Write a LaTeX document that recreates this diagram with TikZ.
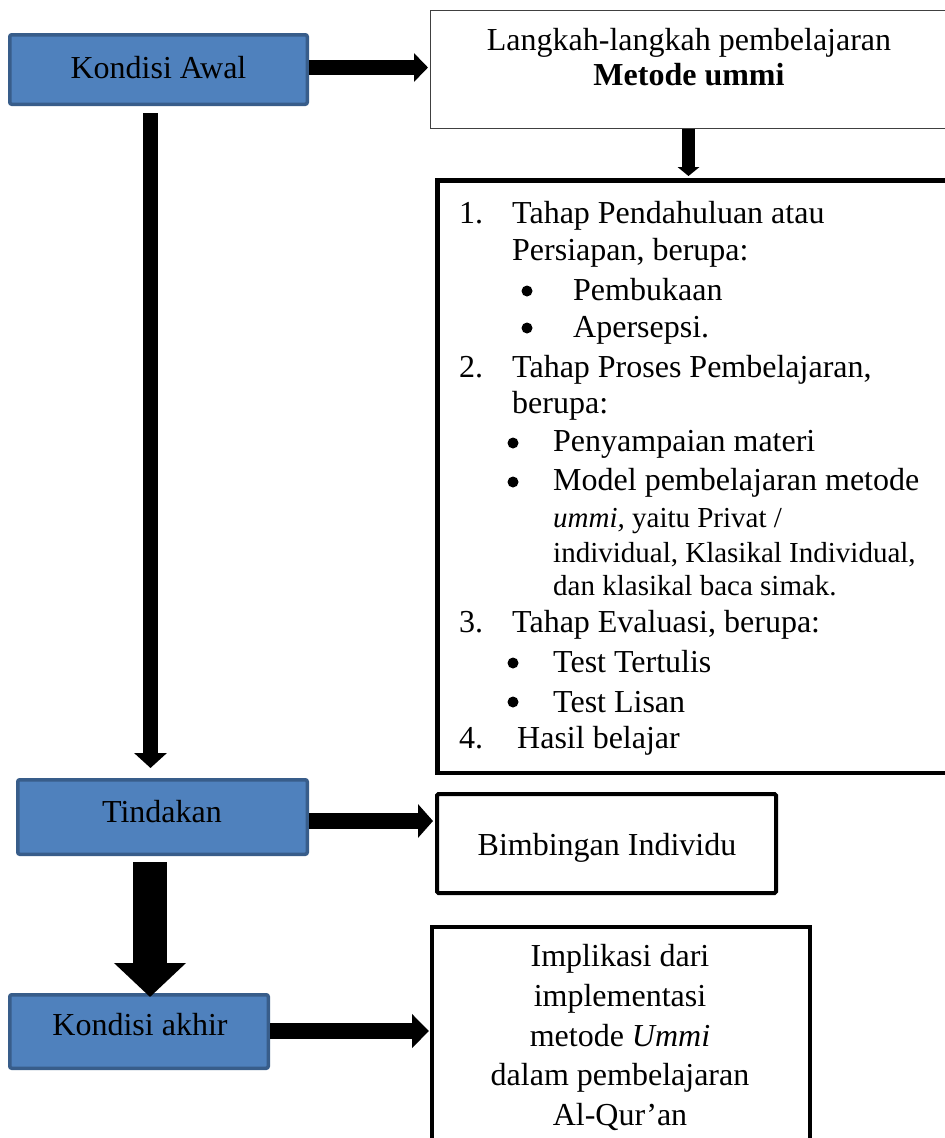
\documentclass[tikz,border=0pt]{standalone}
\usepackage{fontspec}
\setmainfont{Liberation Serif}
\usetikzlibrary{arrows.meta,calc}
\definecolor{boxblue}{HTML}{4F81BD}
\definecolor{boxedge}{HTML}{385D8A}
\begin{document}
\begin{tikzpicture}[x=1pt,y=-1pt,
  bluebox/.style={draw=boxedge,fill=boxblue,line width=3.5pt,rounded corners=2pt,inner sep=0pt},
  whitebox/.style={draw=black,fill=white,inner sep=0pt},
  txt/.style={inner sep=0pt,anchor=base,font=\fontsize{32}{38}\selectfont},
  ltxt/.style={inner sep=0pt,anchor=base west,font=\fontsize{32}{38}\selectfont},
  stxt/.style={inner sep=0pt,anchor=base west,font=\fontsize{29}{34}\selectfont},
  dot/.style={circle,fill=black,inner sep=0pt,minimum size=11pt},
  fat/.style n args={3}{line width=#1,-{Triangle[width=#2,length=#3]}},
]
\useasboundingbox (0,0) rectangle (945,1138);

% left blue boxes
\node[bluebox,minimum width=297.5pt,minimum height=69.5pt] (ka) at (158.5,69.5) {};
\node[txt] (kat) at (158.5,78) {Kondisi Awal};
\node[bluebox,minimum width=289.5pt,minimum height=74.5pt] (td) at (162.5,817) {};
\node[txt] (tdt) at (162,822) {Tindakan};
\node[bluebox,minimum width=258.5pt,minimum height=73.5pt] (kk) at (139,1031.5) {};
\node[txt] (kkt) at (140,1035) {Kondisi akhir};

% right boxes
\node[whitebox,draw=black!75,line width=1.3pt,minimum width=528.7pt,minimum height=117.7pt] (lk) at (695,69.5) {};
\node[txt] (lkt1) at (689,50) {Langkah-langkah pembelajaran};
\node[txt] (lkt2) at (689,85) {\bfseries Metode ummi};

\node[whitebox,line width=4.5pt,minimum width=525.5pt,minimum height=592.5pt] (lst) at (700,476.5) {};
\node[whitebox,line width=4pt,rounded corners=1.5pt,minimum width=339pt,minimum height=99pt] (bim) at (606.5,843.5) {};
\node[txt] (bimt) at (607,855) {Bimbingan Individu};
\node[whitebox,line width=4pt,minimum width=378pt,minimum height=236pt] (imp) at (621,1045) {};

% list text
\node[ltxt] (n1) at (459,223) {1.};
\node[ltxt] (t1a) at (512,223) {Tahap Pendahuluan atau};
\node[ltxt] (t1b) at (512,260) {Persiapan, berupa:};
\node[dot] (d1) at (527,291) {};
\node[ltxt] (t1c) at (573,300) {Pembukaan};
\node[dot] (d2) at (527,328) {};
\node[ltxt] (t1d) at (573,337) {Apersepsi.};
\node[ltxt] (n2) at (459,377) {2.};
\node[ltxt] (t2a) at (512,377) {Tahap Proses Pembelajaran,};
\node[ltxt] (t2b) at (512,413) {berupa:};
\node[dot] (d3) at (513,443) {};
\node[ltxt] (t2c) at (553,451) {Penyampaian materi};
\node[dot] (d4) at (513,482) {};
\node[ltxt] (t2d) at (553,490) {Model pembelajaran metode};
\node[stxt] (t2e) at (553,527) {{\itshape ummi,} yaitu Privat /};
\node[stxt] (t2f) at (553,562) {individual, Klasikal Individual,};
\node[stxt] (t2g) at (553,595) {dan klasikal baca simak.};
\node[ltxt] (n3) at (459,632) {3.};
\node[ltxt] (t3a) at (512,632) {Tahap Evaluasi, berupa:};
\node[dot] (d5) at (513,663) {};
\node[ltxt] (t3b) at (553,672) {Test Tertulis};
\node[dot] (d6) at (513,702) {};
\node[ltxt] (t3c) at (553,712) {Test Lisan};
\node[ltxt] (n4) at (459,748) {4.};
\node[ltxt] (t4a) at (517,748) {Hasil belajar};

% implikasi text
\node[txt] (i1) at (620,966) {Implikasi dari};
\node[txt] (i2) at (620,1006) {implementasi};
\node[txt] (i3) at (620,1046) {metode \textit{Ummi}};
\node[txt] (i4) at (620,1085) {dalam pembelajaran};
\node[txt] (i5) at (620,1125) {Al-Qur’an};

% connectors
\coordinate (c1) at (0,67.5);
\coordinate (c2) at (688.5,0);
\coordinate (c3) at (150.5,0);
\coordinate (c4) at (0,821);
\coordinate (c5) at (150,0);
\coordinate (c6) at (0,1031);
\draw[fat={15pt}{28pt}{14pt}, shorten >=2pt] (ka.east |- c1) -- (lk.west |- c1);
\draw[fat={12.5pt}{21.5pt}{9pt}, shorten >=2pt] (lk.south -| c2) -- (lst.north -| c2);
\draw[fat={15pt}{32pt}{15pt}, shorten <=7pt, shorten >=10pt] (ka.south -| c3) -- (td.north -| c3);
\draw[fat={16pt}{33pt}{15pt}, shorten >=2pt] (td.east |- c4) -- (bim.west |- c4);
\draw[fat={34pt}{70pt}{34pt}, shorten <=6pt, shorten >=-4pt] (td.south -| c5) -- (kk.north -| c5);
\draw[fat={16pt}{33pt}{17pt}, shorten >=1pt] (kk.east |- c6) -- (imp.west |- c6);
\end{tikzpicture}
\end{document}
